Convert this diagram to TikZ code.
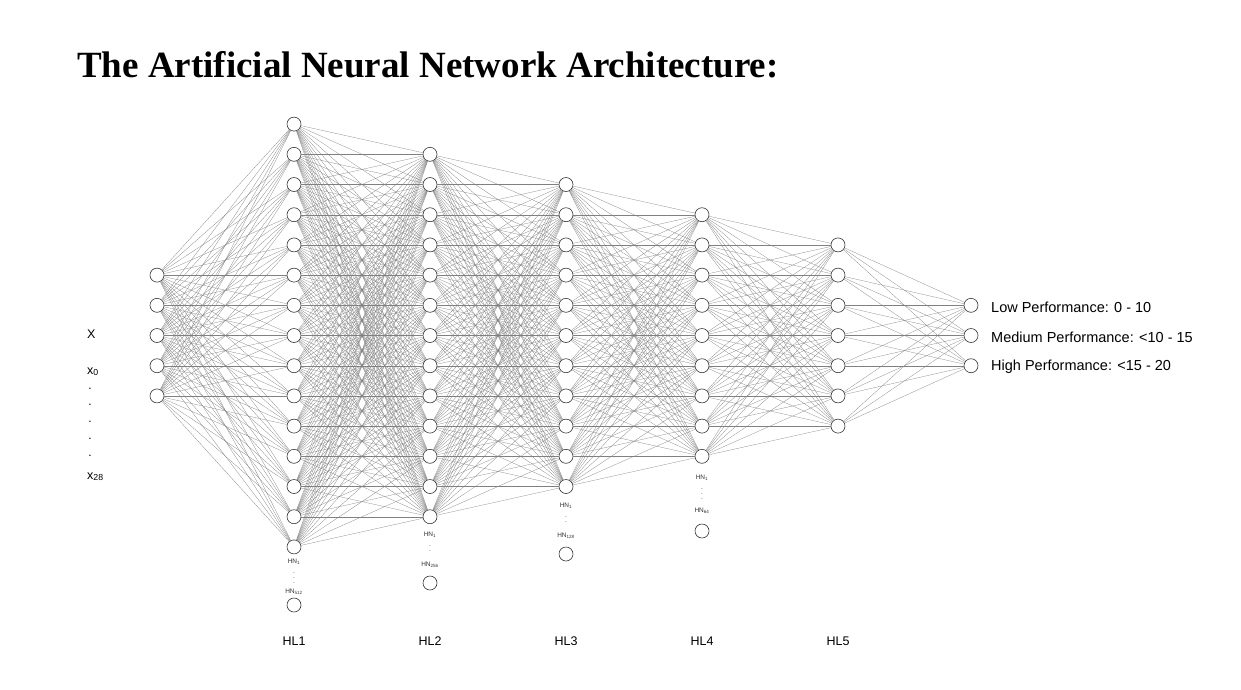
\documentclass[tikz,border=0pt]{standalone}
\usepackage{fontspec}
\setmainfont{Liberation Serif}
\setsansfont{Liberation Sans}
\usepackage{tikz}

\tikzset{
	neuron/.style={shape=circle,draw=black!80,fill=white,line width=0.6pt,minimum size=14pt,inner sep=0pt},
	link/.style={draw=black!50,line width=0.25pt},
	lbl/.style={font=\sffamily\fontsize{12.5}{14}\selectfont,inner sep=0pt},
	outlbl/.style={font=\sffamily\fontsize{14.5}{16}\selectfont,inner sep=0pt,anchor=west},
	hn/.style={font=\sffamily\fontsize{6.5}{6.5}\selectfont,inner sep=0pt,text=black!80},
	hndots/.style={font=\sffamily\fontsize{6.5}{5}\selectfont,inner sep=0pt,align=center,text=black!80},
}

\begin{document}
\begin{tikzpicture}[x=1pt,y=-1pt]
	\useasboundingbox (0,0) rectangle (1241,689);
	\node[anchor=base west,inner sep=0pt,font=\bfseries\fontsize{37}{40}\selectfont] (title) at (77,77) {The Artificial Neural Network Architecture:};

	% neurons of each layer, centred on one line
	\foreach \l/\x/\n in {in/157/5, h1/294/15, h2/430/13, h3/566/11, h4/702/9, h5/838/7, out/971/3}{
		\foreach \i in {1,...,\n}
			\node[neuron] (\l-\i) at (\x, {335.5-30.2*(\n-1)/2+30.2*(\i-1)}) {};
	}

	% fully connected
	\foreach \a/\na/\b/\nb in {in/5/h1/15, h1/15/h2/13, h2/13/h3/11, h3/11/h4/9, h4/9/h5/7, h5/7/out/3}{
		\foreach \i in {1,...,\na}
			\foreach \j in {1,...,\nb}
				\draw[link] (\a-\i) -- (\b-\j);
	}

	% last hidden neuron of each layer
	\node[neuron] (h1-last) at (294,605) {};
	\node[neuron] (h2-last) at (430,583) {};
	\node[neuron] (h3-last) at (566,554) {};
	\node[neuron] (h4-last) at (702,531) {};

	\node[hn] (h1-first) at (294,562) {HN\textsubscript{1}};
	\node[hndots] (h1-dots) at (294,578) {.\\.\\.};
	\node[hn] (h1-n) at (294,592) {HN\textsubscript{512}};
	\node[hn] (h2-first) at (430,535) {HN\textsubscript{1}};
	\node[hndots] (h2-dots) at (430,549) {.\\.};
	\node[hn] (h2-n) at (430,565) {HN\textsubscript{256}};
	\node[hn] (h3-first) at (566,506) {HN\textsubscript{1}};
	\node[hndots] (h3-dots) at (566,520) {.\\.};
	\node[hn] (h3-n) at (566,536) {HN\textsubscript{128}};
	\node[hn] (h4-first) at (702,478) {HN\textsubscript{1}};
	\node[hndots] (h4-dots) at (702,494) {.\\.\\.};
	\node[hn] (h4-n) at (702,511) {HN\textsubscript{64}};

	% inputs
	\node[lbl,anchor=base west] (xbig) at (87,338) {X};
	\node[lbl,anchor=base west] (x0) at (87,374) {x\textsubscript{0}};
	\node[lbl,align=center,font=\sffamily\fontsize{12}{16.7}\selectfont] (xdots) at (90,422) {.\\.\\.\\.\\.};
	\node[lbl,anchor=base west] (x28) at (87,479) {x\textsubscript{28}};

	% outputs
	\node[outlbl] (low) at (991,307) {Low Performance: 0 - 10};
	\node[outlbl] (med) at (991,337) {Medium Performance: <10 - 15};
	\node[outlbl] (high) at (991,367) {High Performance: <15 - 20};

	\node[lbl] (hl1) at (294,641) {HL1};
	\node[lbl] (hl2) at (430,641) {HL2};
	\node[lbl] (hl3) at (566,641) {HL3};
	\node[lbl] (hl4) at (702,641) {HL4};
	\node[lbl] (hl5) at (838,641) {HL5};
\end{tikzpicture}
\end{document}
